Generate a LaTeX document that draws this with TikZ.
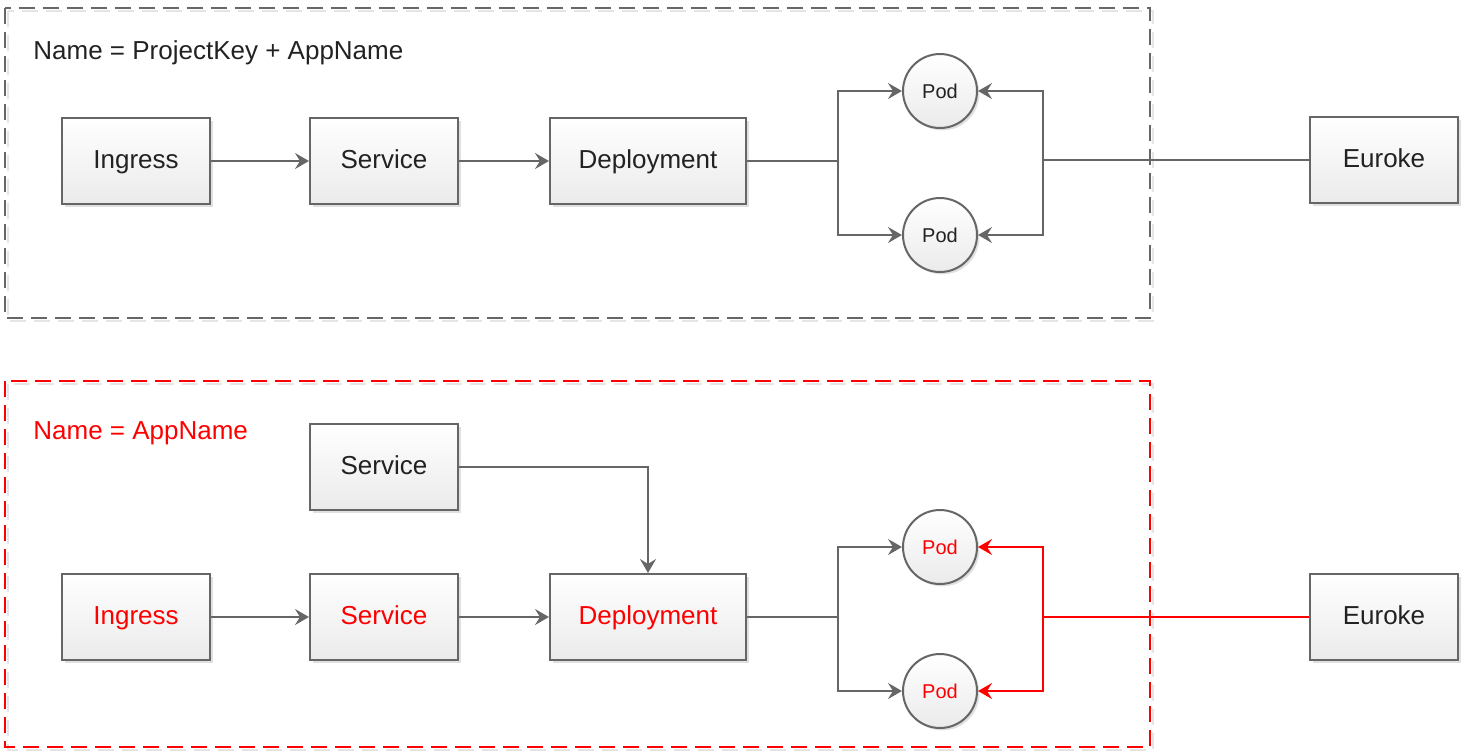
\documentclass[tikz,border=0pt]{standalone}
\usepackage{fontspec}
\setmainfont{Liberation Sans}
\usetikzlibrary{arrows.meta,shadows}
\definecolor{edge}{HTML}{666666}
\definecolor{ink}{HTML}{222222}
\begin{document}
\begin{tikzpicture}[x=0.5pt,y=-0.5pt,
  font=\fontsize{13}{15}\selectfont,
  box/.style={draw=edge,line width=1pt,rectangle,minimum width=74pt,minimum height=43pt,
    text height=0.72em,text depth=0pt,
    top color=white,bottom color=black!8,text=ink,
    drop shadow={shadow xshift=1.5pt,shadow yshift=-1.5pt,fill=black!12,opacity=1}},
  widebox/.style={box,minimum width=98pt},
  pod/.style={draw=edge,line width=1pt,circle,minimum size=37pt,inner sep=0pt,
    text height=0.72em,text depth=0pt,
    top color=white,bottom color=black!8,text=ink,font=\fontsize{10}{12}\selectfont,
    drop shadow={shadow xshift=1.2pt,shadow yshift=-1.2pt,fill=black!12,opacity=1}},
  link/.style={edge,line width=1pt},
  arr/.style={link,-{Stealth[length=7pt,width=8pt,inset=2.5pt]}},
  frame/.style={line width=1pt,dash pattern=on 8pt off 4pt},
  title/.style={anchor=west,inner sep=0pt,text height=0.72em,text depth=0pt}]

\useasboundingbox (0,0) rectangle (1464,752);

%dashed frames with their faint shadow
  \draw[frame,black!10] (8,11) rectangle (1153,321);
  \draw[frame,edge] (5,8) rectangle (1150,318);
  \draw[frame,black!10] (8,384) rectangle (1153,750);
  \draw[frame,red] (5,381) rectangle (1150,747);

%titles
  \node[title,text=ink] (name1) at (33,52) {Name = ProjectKey + AppName};
  \node[title,text=red] (name2) at (33,432) {Name = AppName};

%upper row
  \node[box] (ing1) at (136,161) {Ingress};
  \node[box] (svc1) at (384,161) {Service};
  \node[widebox] (dep1) at (648,161) {Deployment};
  \node[pod] (pod1a) at (940,91) {Pod};
  \node[pod] (pod1b) at (940,235) {Pod};
  \node[box] (eur1) at (1384,160) {Euroke};
  \coordinate (split1) at (838,161);
  \coordinate (join1) at (1043,160);

%lower row
  \node[box] (svc2a) at (384,467) {Service};
  \node[box,text=red] (ing2) at (136,617) {Ingress};
  \node[box,text=red] (svc2) at (384,617) {Service};
  \node[widebox,text=red] (dep2) at (648,617) {Deployment};
  \node[pod,text=red] (pod2a) at (940,547) {Pod};
  \node[pod,text=red] (pod2b) at (940,691) {Pod};
  \node[box] (eur2) at (1384,617) {Euroke};
  \coordinate (split2) at (838,617);
  \coordinate (join2) at (1043,617);

%chains
  \draw[arr] (ing1) -- (svc1);
  \draw[arr] (svc1) -- (dep1);
  \draw[link] (dep1) -- (split1);
  \draw[link] (eur1) -- (join1);
  \draw[arr] (ing2) -- (svc2);
  \draw[arr] (svc2) -- (dep2);
  \draw[arr] (svc2a) -| (dep2);
  \draw[link] (dep2) -- (split2);
  \draw[link,red] (eur2) -- (join2);

%fan out to the pods
  \foreach \p in {pod1a,pod1b} {
    \draw[arr] (split1) |- (\p);
    \draw[arr] (join1) |- (\p); }
  \foreach \p in {pod2a,pod2b} {
    \draw[arr] (split2) |- (\p);
    \draw[arr,red] (join2) |- (\p); }

\end{tikzpicture}
\end{document}
